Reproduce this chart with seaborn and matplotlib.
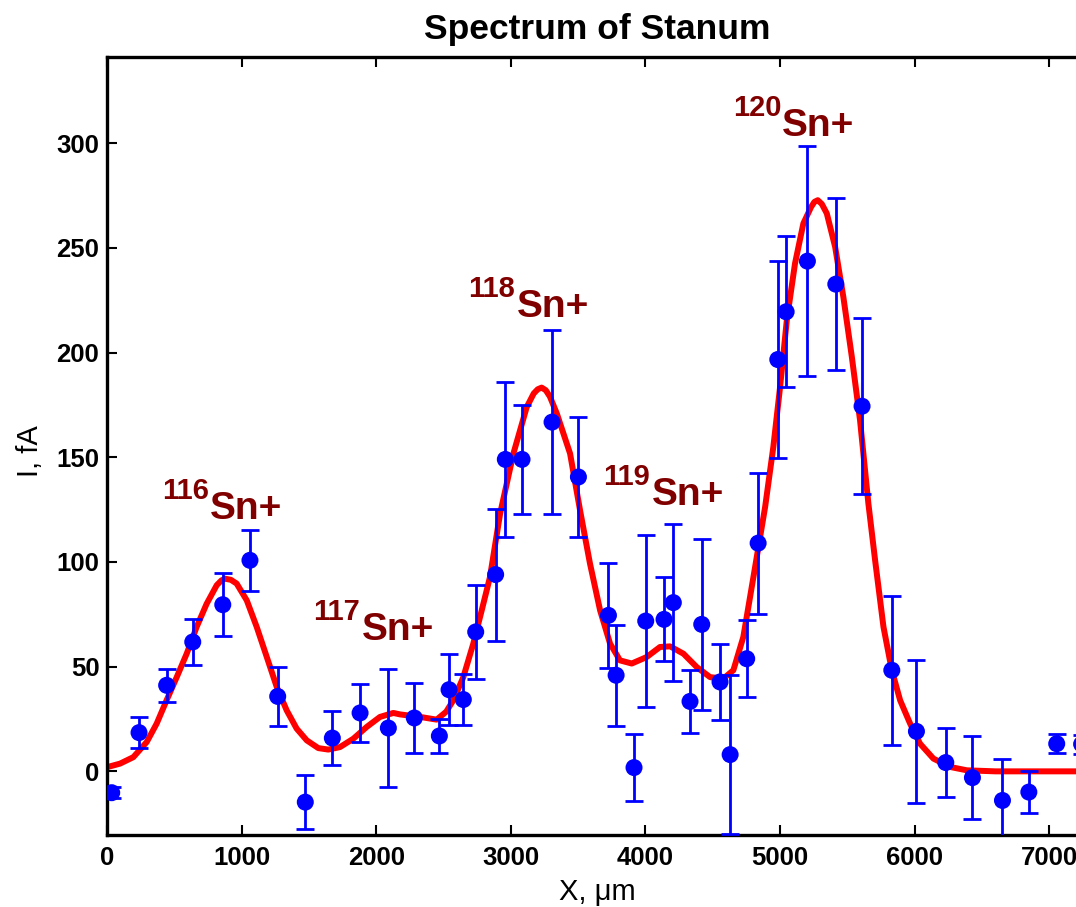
import matplotlib
matplotlib.use("Agg")
import numpy as np
import pandas as pd
import matplotlib.pyplot as plt
import seaborn as sns

# ---------------- data ----------------
pos_x = [35, 238, 443, 637, 860, 1062, 1268, 1473, 1674, 1880, 2090, 2283, 2469, 2541,
         2647, 2739, 2887, 2959, 3083, 3306, 3502, 3725, 3782, 3915, 4002, 4138, 4207,
         4331, 4418, 4554, 4629, 4752, 4837, 4983, 5045, 5203, 5414, 5609, 5830, 6013,
         6231, 6429, 6652, 6848, 7055, 7240]
intensity = [-10.2, 18.5, 41.1, 61.8, 79.6, 100.8, 35.8, -14.7, 15.9, 27.9, 20.7, 25.5,
             16.9, 39.0, 34.3, 66.6, 94.0, 149.0, 149.0, 166.8, 140.6, 74.5, 45.9, 1.8,
             71.8, 72.6, 80.6, 33.4, 70.2, 42.7, 8.0, 53.8, 109.0, 196.7, 219.5, 243.7,
             232.7, 174.4, 48.3, 19.1, 4.2, -3.0, -13.9, -9.9, 13.2, 13.0]
error = [2.5, 7.5, 8, 11, 15, 14.5, 14, 13, 13, 14, 28, 16.5, 8, 17, 12, 22.5, 31.5, 37,
         26, 44, 28.5, 25, 24, 16, 41, 20, 37.5, 15, 41, 18, 38, 18.5, 33.7, 47, 36, 55,
         41, 42, 35.5, 34, 16.5, 19.8, 19.6, 10, 4.6, 4.5]

fit_x = [0, 97, 196, 295, 369, 443, 518, 592, 666, 740, 815, 850, 877, 920, 963, 1038, 1112,
         1187, 1261, 1335, 1409, 1484, 1570, 1644, 1731, 1830, 1929, 2028, 2127, 2177,
         2325, 2449, 2520, 2573, 2647, 2721, 2784, 2845, 2920, 3019, 3118, 3170, 3200,
         3229, 3260, 3290, 3341, 3440, 3514, 3588, 3663, 3737, 3811, 3898, 4009, 4108,
         4183, 4282, 4381, 4480, 4579, 4653, 4727, 4802, 4889, 4950, 5000, 5050, 5111,
         5173, 5230, 5255, 5280, 5310, 5347, 5409, 5470, 5533, 5594, 5656, 5706, 5768,
         5830, 5892, 5966, 6040, 6139, 6263, 6387, 6600, 7000, 7500]
fit_y = [2, 3.7, 6.8, 14, 22.8, 34, 45, 56.2, 69, 80, 88.9, 91.2, 92, 91.5, 89.7, 81.7, 69,
         54.6, 40.3, 29.1, 20.4, 14.8, 11.1, 10.4, 11.6, 15.6, 21.2, 26, 27.9, 27.2,
         26, 24.7, 28.5, 34, 45, 61, 77, 92.8, 123, 151.8, 174, 180.5, 182.5,
         183.3, 182, 179, 171, 151.8, 124.7, 99.2, 76.9, 61, 53, 51.5, 54.6, 59.4,
         59.7, 56.2, 49.8, 45, 44.3, 48.3, 64.2, 92.8, 126.3, 155, 183.6, 215.5, 242.6,
         261.7, 269.5, 272, 272.8, 271, 266.5, 250.5, 226.6, 198, 167.7, 127.9, 100.8, 69,
         48.3, 33.9, 22.8, 13.2, 6.1, 2.1, 0.5, 0, 0, 0]

peak_mass = ["116", "117", "118", "119", "120"]
peak_label_x = [406, 1533, 2684, 3683, 4653]
peak_label_y = [120.7, 62.6, 217.1, 127.1, 303.4]

x_ticks = [0, 1000, 2000, 3000, 4000, 5000, 6000, 7000]
y_ticks = [0, 50, 100, 150, 200, 250, 300]

# ---------------- style ----------------
sns.set_style("ticks")
plt.rcParams["font.family"] = ["Liberation Sans", "DejaVu Sans"]
plt.rcParams["text.color"] = "black"
plt.rcParams["axes.labelcolor"] = "black"
plt.rcParams["xtick.color"] = "black"
plt.rcParams["ytick.color"] = "black"
plt.rcParams["lines.solid_joinstyle"] = "round"

W, H = 1076, 907
fig = plt.figure(figsize=(W / 100, H / 100), dpi=100)
ax_l, ax_b, ax_w, ax_h = 107, 72, 980, 778
ax = fig.add_axes([ax_l / W, ax_b / H, ax_w / W, ax_h / H])

df_fit = pd.DataFrame({"x": fit_x, "y": fit_y})
sns.lineplot(data=df_fit, x="x", y="y", color="red", linewidth=4.3, sort=False,
             estimator=None, ax=ax, zorder=2)
ax.errorbar(pos_x, intensity, yerr=error, fmt="none", ecolor="blue", elinewidth=2.0,
            capsize=6.8, capthick=2.0, zorder=3)
sns.scatterplot(x=pos_x, y=intensity, color="blue", s=150, edgecolor="none",
                linewidth=0, ax=ax, zorder=4)

dark_red = "#800000"
for m, lx, ly in zip(peak_mass, peak_label_x, peak_label_y):
    ax.annotate(m, xy=(lx, ly), xytext=(0, 14.4), textcoords="offset points",
                fontsize=21, fontweight="bold", color=dark_red, ha="left", va="baseline")
    ax.annotate("Sn+", xy=(lx, ly), xytext=(35, 0), textcoords="offset points",
                fontsize=28, fontweight="bold", color=dark_red, ha="left", va="baseline")

ax.set_xlim(0, 7280)
ax.set_ylim(-30.4, 341.2)
ax.set_xticks(x_ticks, [str(t) for t in x_ticks], fontweight="bold")
ax.set_yticks(y_ticks, [str(t) for t in y_ticks], fontweight="bold")
ax.tick_params(axis="both", direction="in", length=7, width=1.5, color="black",
               labelsize=18.5, top=True, right=True, labelcolor="black")
ax.tick_params(axis="x", pad=8.0)
ax.tick_params(axis="y", pad=5.5)
for s in ax.spines.values():
    s.set_visible(True)
    s.set_linewidth(2.4)
    s.set_color("black")

ax.set_xlabel("X, μm", fontsize=21, va="baseline", color="black")
ax.xaxis.set_label_coords(0.5, -65 / ax_h)
ax.set_ylabel("I, fA", fontsize=21, va="center", color="black")
ax.yaxis.set_label_coords(-77 / ax_w, (835 - 451) / ax_h)

ax.text(0.5, 1 + 18 / ax_h, "Spectrum of Stanum", transform=ax.transAxes,
        ha="center", va="baseline", fontsize=25.5, fontweight="bold", color="black")

fig.savefig("out.png", dpi=100)
